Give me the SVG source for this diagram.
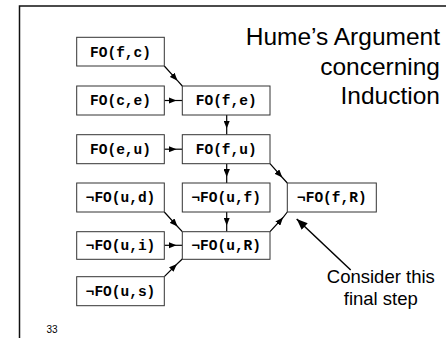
<svg xmlns="http://www.w3.org/2000/svg" width="446" height="338" viewBox="0 0 446 338">
<style>
.box{fill:#fff;stroke:#333;stroke-width:1}
.lbl{font-family:"Liberation Mono","Courier New",monospace;font-weight:bold;font-size:14.5px;fill:#000;text-anchor:middle}
.ttl{font-family:"Liberation Sans",Arial,sans-serif;fill:#000}
.con{fill:none;stroke:#000;stroke-width:1.2;marker-mid:url(#ah)}
</style>
<defs>
<marker id="ah" viewBox="0 0 10 8" refX="10" refY="4" markerWidth="8" markerHeight="6.4" markerUnits="userSpaceOnUse" orient="auto">
<path d="M0,0 L10,4 L0,8 Z" fill="#000"/>
</marker>
<marker id="ah2" viewBox="0 0 10 8" refX="10" refY="4" markerWidth="11" markerHeight="8.8" markerUnits="userSpaceOnUse" orient="auto">
<path d="M0,0 L10,4 L0,8 Z" fill="#000"/>
</marker>
</defs>
<rect width="446" height="338" fill="#fff"/>
<path d="M19.5,338 V6 H446" fill="none" stroke="#111" stroke-width="1.5"/>
<g id="title">
<text class="ttl" x="440" y="45" font-size="24.5" text-anchor="end">Hume’s Argument</text>
<text class="ttl" x="440" y="74.7" font-size="24.5" text-anchor="end">concerning</text>
<text class="ttl" x="440" y="104.3" font-size="24.5" text-anchor="end">Induction</text>
</g>
<g id="connectors">
<path class="con" d="M164.3,66 L177.5,80.7 L182.3,86"/>
<path class="con" d="M164.3,100.5 L176.5,100.5 L182.3,100.5"/>
<path class="con" d="M164.3,149.2 L176.5,149.2 L182.3,149.2"/>
<path class="con" d="M226.7,115 L226.7,128.5 L226.7,134.7"/>
<path class="con" d="M226.7,163.7 L226.7,177 L226.7,183"/>
<path class="con" d="M270,163.7 L282.3,177.5 L287.3,183"/>
<path class="con" d="M226.7,212 L226.7,225.5 L226.7,231.7"/>
<path class="con" d="M164.3,212 L177.5,226.5 L182.3,231.7"/>
<path class="con" d="M164.3,245.3 L176.5,245.3 L182.3,245.3"/>
<path class="con" d="M164.3,276.7 L177,264 L182.3,259"/>
<path class="con" d="M270,231.7 L283,217.5 L287.3,212"/>
<line x1="350.7" y1="270" x2="296.7" y2="219" stroke="#000" stroke-width="1.5" marker-end="url(#ah2)"/>
</g>
<g id="n-fo-fc"><rect class="box" x="76.7" y="37.3" width="87.6" height="28.7"/><text class="lbl" x="120.5" y="56.5">FO(f,c)</text></g>
<g id="n-fo-ce"><rect class="box" x="76.7" y="86" width="87.6" height="29"/><text class="lbl" x="120.5" y="105.3">FO(c,e)</text></g>
<g id="n-fo-eu"><rect class="box" x="76.7" y="134.7" width="87.6" height="29"/><text class="lbl" x="120.5" y="154">FO(e,u)</text></g>
<g id="n-nfo-ud"><rect class="box" x="76.7" y="183" width="87.6" height="29"/><text class="lbl" x="120.5" y="202.3">¬FO(u,d)</text></g>
<g id="n-nfo-ui"><rect class="box" x="76.7" y="231.7" width="87.6" height="27.6"/><text class="lbl" x="120.5" y="250.3">¬FO(u,i)</text></g>
<g id="n-nfo-us"><rect class="box" x="76.7" y="276.7" width="87.6" height="29"/><text class="lbl" x="120.5" y="296">¬FO(u,s)</text></g>
<g id="n-fo-fe"><rect class="box" x="182.3" y="86" width="87.7" height="29"/><text class="lbl" x="226.2" y="105.3">FO(f,e)</text></g>
<g id="n-fo-fu"><rect class="box" x="182.3" y="134.7" width="87.7" height="29"/><text class="lbl" x="226.2" y="154">FO(f,u)</text></g>
<g id="n-nfo-uf"><rect class="box" x="182.3" y="183" width="87.7" height="29"/><text class="lbl" x="226.2" y="202.3">¬FO(u,f)</text></g>
<g id="n-nfo-uR"><rect class="box" x="182.3" y="231.7" width="87.7" height="27.6"/><text class="lbl" x="226.2" y="250.3">¬FO(u,R)</text></g>
<g id="n-nfo-fR"><rect class="box" x="287.3" y="183" width="89" height="29"/><text class="lbl" x="331.8" y="202.3">¬FO(f,R)</text></g>
<g id="note">
<text class="ttl" x="380.8" y="283.3" font-size="18.5" text-anchor="middle">Consider this</text>
<text class="ttl" x="380.8" y="305.3" font-size="18.5" text-anchor="middle">final step</text>
</g>
<text class="ttl" x="46.5" y="333" font-size="10">33</text>
</svg>
